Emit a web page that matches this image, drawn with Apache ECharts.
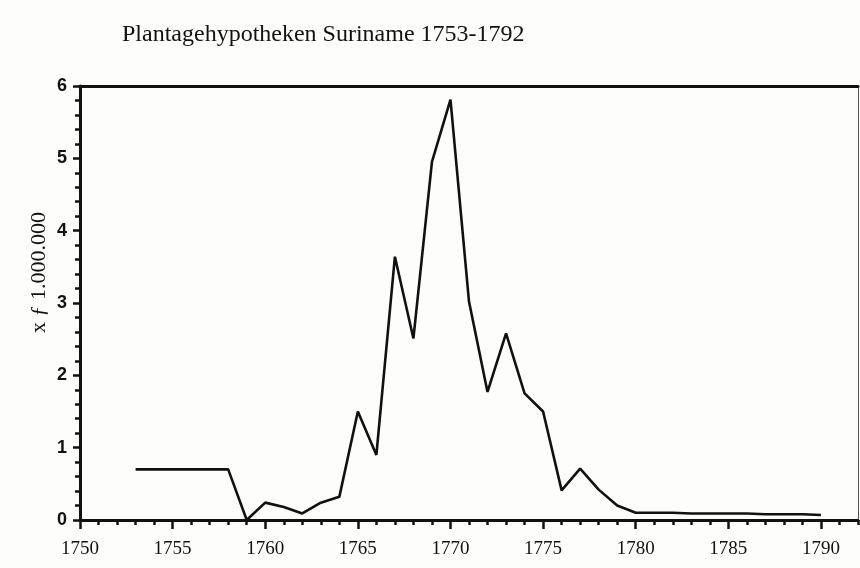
<!DOCTYPE html>
<html>
<head>
<meta charset="utf-8">
<script src="https://cdn.jsdelivr.net/npm/echarts@6/dist/echarts.min.js"></script>
<style>
  html, body { margin: 0; padding: 0; background: #fdfdfb; }
  #chart { width: 860px; height: 568px; }
</style>
</head>
<body>
<div id="chart"></div>
<script>
const years = [1753, 1754, 1755, 1756, 1757, 1758, 1759, 1760, 1761, 1762,
  1763, 1764, 1765, 1766, 1767, 1768, 1769, 1770, 1771, 1772,
  1773, 1774, 1775, 1776, 1777, 1778, 1779, 1780, 1781, 1782,
  1783, 1784, 1785, 1786, 1787, 1788, 1789, 1790];
const mortgages = [0.70, 0.70, 0.70, 0.70, 0.70, 0.70, 0.00, 0.24, 0.18, 0.09,
  0.24, 0.32, 1.50, 0.90, 3.64, 2.51, 4.95, 5.81, 3.02, 1.77,
  2.58, 1.75, 1.50, 0.41, 0.71, 0.42, 0.20, 0.10, 0.10, 0.10,
  0.09, 0.09, 0.09, 0.09, 0.08, 0.08, 0.08, 0.07];
const xLabelTicks = [1750, 1755, 1760, 1765, 1770, 1775, 1780, 1785, 1790];
const xYearTicks = [1750, 1751, 1752, 1753, 1754, 1755, 1756, 1757, 1758, 1759,
  1760, 1761, 1762, 1763, 1764, 1765, 1766, 1767, 1768, 1769,
  1770, 1771, 1772, 1773, 1774, 1775, 1776, 1777, 1778, 1779,
  1780, 1781, 1782, 1783, 1784, 1785, 1786, 1787, 1788, 1789,
  1790, 1791, 1792];

const ink = '#111';
const serif = '"Liberation Serif", "DejaVu Serif", serif';

const chart = echarts.init(document.getElementById('chart'));
const option = {
  backgroundColor: '#fdfdfb',
  animation: false,
  title: {
    text: 'Plantagehypotheken Suriname 1753-1792',
    left: 117,
    top: 18,
    textStyle: {
      color: ink,
      fontFamily: serif,
      fontSize: 24,
      fontWeight: 'normal'
    }
  },
  graphic: [{
    type: 'text',
    left: 28,
    top: 212,
    rotation: Math.PI / 2,
    style: {
      text: 'x \u0192 1.000.000',
      fill: ink,
      font: '22px ' + serif
    }
  }],
  grid: {
    left: 80,
    right: 2,
    top: 86,
    bottom: 48
  },
  xAxis: [
    {
      type: 'value',
      min: 1750,
      max: 1792,
      position: 'bottom',
      splitLine: { show: false },
      axisLine: { onZero: false, lineStyle: { color: ink, width: 3 } },
      axisTick: {
        customValues: xLabelTicks,
        length: 9,
        lineStyle: { color: ink, width: 2.5 }
      },
      axisLabel: {
        customValues: xLabelTicks,
        formatter: v => String(v),
        color: ink,
        fontFamily: serif,
        fontSize: 19,
        margin: 20
      }
    },
    {
      type: 'value',
      min: 1750,
      max: 1792,
      position: 'bottom',
      splitLine: { show: false },
      axisLine: { show: false },
      axisTick: {
        customValues: xYearTicks,
        length: 5,
        lineStyle: { color: ink, width: 2.5 }
      },
      axisLabel: { show: false }
    },
    {
      type: 'value',
      min: 1750,
      max: 1792,
      position: 'top',
      splitLine: { show: false },
      axisLine: { onZero: false, lineStyle: { color: ink, width: 3 } },
      axisTick: { show: false },
      axisLabel: { show: false }
    }
  ],
  yAxis: [
    {
      type: 'value',
      min: 0,
      max: 6,
      interval: 1,
      splitLine: { show: false },
      axisLine: { onZero: false, lineStyle: { color: ink, width: 3 } },
      axisTick: { length: 7, lineStyle: { color: ink, width: 2.5 } },
      minorTick: { show: true, splitNumber: 5, length: 5, lineStyle: { color: ink, width: 2.5 } },
      axisLabel: {
        color: ink,
        fontFamily: '"Liberation Sans", Arial, sans-serif',
        fontWeight: 'bold',
        fontSize: 18,
        margin: 13
      }
    },
    {
      type: 'value',
      min: 0,
      max: 6,
      position: 'right',
      splitLine: { show: false },
      axisLine: { onZero: false, lineStyle: { color: '#555', width: 1 } },
      axisTick: { show: false },
      axisLabel: { show: false }
    }
  ],
  series: [{
    type: 'line',
    xAxisIndex: 0,
    yAxisIndex: 0,
    symbol: 'none',
    lineStyle: { color: ink, width: 2.6 },
    data: years.map((y, i) => [y, mortgages[i]])
  }]
};
chart.setOption(option);
</script>
</body>
</html>
